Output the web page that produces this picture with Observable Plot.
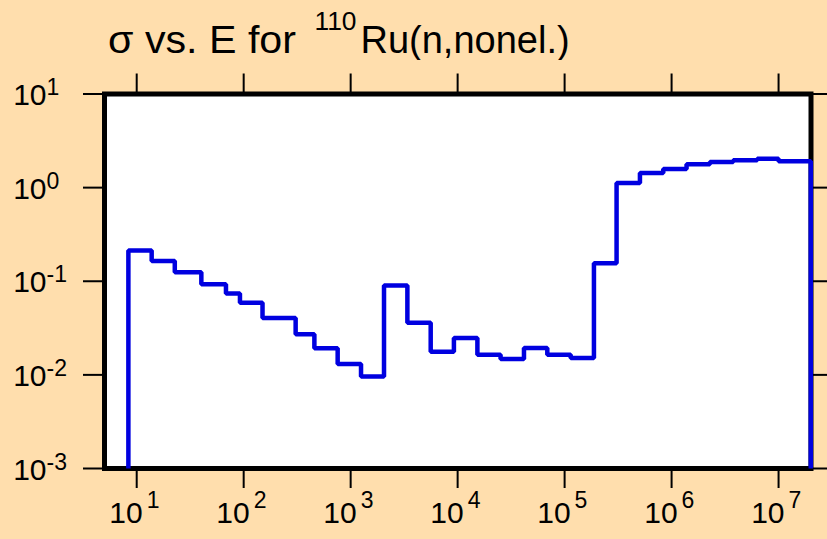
<!DOCTYPE html>
<html>
<head>
<meta charset="utf-8">
<script src="https://cdn.jsdelivr.net/npm/d3@7"></script>
<script src="https://cdn.jsdelivr.net/npm/@observablehq/plot@0.6"></script>
<style>
  html, body { margin: 0; padding: 0; background: #ffdead; }
  #wrap { width: 827px; height: 539px; position: relative; overflow: hidden; background: #ffdead; }
  svg { display: block; }
</style>
</head>
<body>
<div id="wrap">
  <svg id="title" width="827" height="60" style="font-family: 'Liberation Sans', Arial, sans-serif;">
    <text x="108" y="52.5" font-size="38" textLength="188" lengthAdjust="spacingAndGlyphs">σ vs. E for</text>
    <text x="314.5" y="29.5" font-size="25" textLength="42" lengthAdjust="spacingAndGlyphs">110</text>
    <text x="360.5" y="52.5" font-size="38">Ru(n,nonel.)</text>
  </svg>
  <div id="chart"></div>
</div>
<script>
// Energy bin edges (eV)
const edges = [8.36, 13.8, 22.7, 40.2, 68.3, 92.3, 150, 306, 458, 756, 1250, 2050, 3390, 5600, 9230, 15300, 25200, 41700, 68900, 114000, 188000, 306000, 506000, 836000, 1.38e6, 2.28e6, 3.77e6, 6.32e6, 1.0e7, 2.0e7];
// Cross-section in each bin (b)
const sigma = [0.213, 0.165, 0.125, 0.093, 0.0738, 0.0591, 0.0406, 0.0271, 0.0192, 0.0131, 0.0096, 0.090, 0.0361, 0.0177, 0.0248, 0.0164, 0.0148, 0.0194, 0.0164, 0.0151, 0.156, 1.12, 1.43, 1.58, 1.78, 1.88, 1.96, 2.04, 1.91];
// Axis tick exponents
const xExps = [1, 2, 3, 4, 5, 6, 7];
const yExps = [-3, -2, -1, 0, 1];
const xDomain = [5, 2.01e7];
const yDomain = [1e-3, 10];

const yMin = yDomain[0];
const pts = [{E: edges[0], s: yMin}];
sigma.forEach((s, i) => { pts.push({E: edges[i], s}); pts.push({E: edges[i + 1], s}); });
pts.push({E: edges[edges.length - 1], s: yMin});

const xTicks = xExps.map(d => 10 ** d);
const yTicks = yExps.map(d => 10 ** d);
const font = '"Liberation Sans", Arial, sans-serif';

const chart = Plot.plot({
  width: 827,
  height: 479,
  marginTop: 33.5,
  marginBottom: 71,
  marginLeft: 104,
  marginRight: 16.5,
  style: {background: "#ffdead", fontFamily: font, color: "black", overflow: "visible"},
  x: {type: "log", domain: xDomain},
  y: {type: "log", domain: yDomain},
  marks: [
    Plot.frame({fill: "white", stroke: null}),
    Plot.axisX({anchor: "bottom", ticks: xTicks, tickSize: 20, tickFormat: () => "", strokeWidth: 2, label: null}),
    Plot.axisX({anchor: "top", ticks: xTicks, tickSize: 21, tickFormat: () => "", strokeWidth: 2, label: null}),
    Plot.axisY({anchor: "left", ticks: yTicks, tickSize: 21, tickFormat: () => "", strokeWidth: 2, label: null}),
    Plot.axisY({anchor: "right", ticks: yTicks, tickSize: 21, tickFormat: () => "", strokeWidth: 2, label: null}),
    Plot.frame({stroke: "black", strokeWidth: 5}),
    Plot.line(pts, {x: "E", y: "s", stroke: "#0000e0", strokeWidth: 4.5, strokeLinejoin: "miter", strokeLinecap: "butt"}),
    // y tick labels: "10" + superscript exponent
    Plot.text(yExps, {y: d => 10 ** d, text: () => "10", frameAnchor: "left", textAnchor: "end", lineAnchor: "bottom", dx: -58, dy: 11, fontSize: 30, fill: "black"}),
    Plot.text(yExps, {y: d => 10 ** d, text: d => String(d), frameAnchor: "left", textAnchor: "start", lineAnchor: "bottom", dx: -58, dy: 1, fontSize: 23, letterSpacing: 1.5, fill: "black"}),
    // x tick labels
    Plot.text(xExps, {x: d => 10 ** d, text: () => "10", frameAnchor: "bottom", textAnchor: "end", lineAnchor: "bottom", dx: 6, dy: 54, fontSize: 30, fill: "black"}),
    Plot.text(xExps, {x: d => 10 ** d, text: d => String(d), frameAnchor: "bottom", textAnchor: "start", lineAnchor: "bottom", dx: 10, dy: 39, fontSize: 23, letterSpacing: 1.5, fill: "black"})
  ]
});
document.getElementById("chart").appendChild(chart);
</script>
</body>
</html>
